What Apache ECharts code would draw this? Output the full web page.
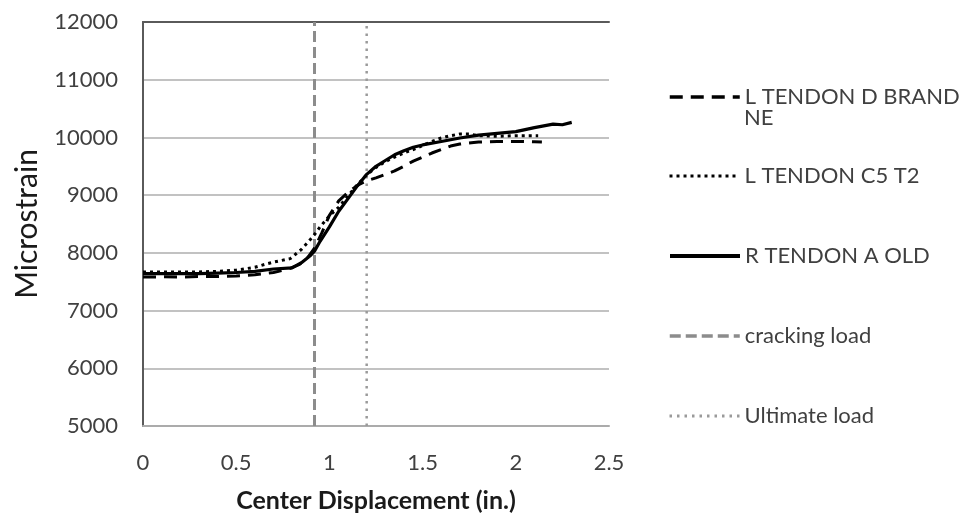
<!DOCTYPE html>
<html>
<head>
<meta charset="utf-8">
<script src="https://cdn.jsdelivr.net/npm/echarts@6/dist/echarts.min.js"></script>
<style>
  html, body { margin: 0; padding: 0; background: #fff; }
  #chart { width: 966px; height: 518px; }
</style>
</head>
<body>
<div id="chart"></div>
<script>
// Center displacement (in.) vs. tendon strain readings
const dBrandneX = [0, 0.1, 0.2, 0.3, 0.4, 0.5, 0.6, 0.7, 0.78, 0.84, 0.88, 0.92, 0.96, 1.0, 1.05, 1.1, 1.15, 1.2, 1.25, 1.3, 1.35, 1.4, 1.45, 1.5, 1.55, 1.6, 1.65, 1.7, 1.8, 1.9, 2.0, 2.1, 2.14];
const dBrandneY = [7580, 7585, 7580, 7590, 7590, 7600, 7620, 7660, 7720, 7800, 7900, 8080, 8350, 8650, 8900, 9050, 9170, 9250, 9300, 9360, 9420, 9500, 9590, 9660, 9730, 9790, 9850, 9885, 9920, 9930, 9930, 9925, 9920];

const c5t2X = [0, 0.1, 0.2, 0.3, 0.4, 0.5, 0.6, 0.665, 0.7, 0.79, 0.85, 0.9, 0.923, 0.95, 1.0, 1.05, 1.1, 1.15, 1.2, 1.25, 1.3, 1.35, 1.4, 1.45, 1.5, 1.55, 1.6, 1.65, 1.7, 1.75, 1.8, 1.9, 2.0, 2.1, 2.12];
const c5t2Y = [7670, 7670, 7670, 7670, 7680, 7700, 7750, 7810, 7840, 7900, 8060, 8240, 8330, 8450, 8640, 8790, 8990, 9180, 9350, 9480, 9580, 9660, 9730, 9790, 9860, 9930, 9990, 10030, 10060, 10060, 10030, 10020, 10030, 10030, 10030];

const aOldX = [0, 0.1, 0.2, 0.3, 0.4, 0.5, 0.6, 0.7, 0.8, 0.85, 0.9, 0.92, 0.95, 1.0, 1.05, 1.1, 1.15, 1.2, 1.25, 1.3, 1.35, 1.4, 1.45, 1.5, 1.6, 1.7, 1.8, 1.9, 2.0, 2.1, 2.2, 2.25, 2.3];
const aOldY = [7640, 7640, 7640, 7640, 7650, 7660, 7680, 7720, 7740, 7830, 7960, 8030, 8200, 8450, 8720, 8940, 9160, 9360, 9500, 9600, 9700, 9770, 9830, 9870, 9930, 9990, 10040, 10070, 10100, 10170, 10230, 10220, 10260];

// Reference loads (displacement at which they occur)
const crackingDisp = 0.92;
const ultimateDisp = 1.2;
const strainRange = [5000, 12000];

const yTicks = { min: 5000, max: 12000, interval: 1000 };
const xTicks = { min: 0, max: 2.5, interval: 0.5 };

const seriesNames = ['L TENDON D BRANDNE', 'L TENDON C5 T2', 'R TENDON A OLD', 'cracking load', 'Ultimate load'];

const pairs = (xs, ys) => xs.map((x, i) => [x, ys[i]]);

const FONT = 'Lato';
const LEGEND_TEXT = { fontFamily: FONT, fontSize: 22, color: '#404040' };
const chart = echarts.init(document.getElementById('chart'), null, { renderer: 'canvas' });

function legendAt(name, top, lineWidth, extra) {
  return Object.assign({
    orient: 'vertical',
    left: 668,
    top: top,
    itemWidth: 70,
    itemHeight: 14,
    itemGap: 0,
    padding: 0,
    selectedMode: false,
    itemStyle: { opacity: 0 },
    lineStyle: { width: lineWidth },
    textStyle: LEGEND_TEXT,
    data: [name]
  }, extra || {});
}

chart.setOption({
  animation: false,
  backgroundColor: '#ffffff',
  grid: { left: 143, top: 22, right: 357, bottom: 90, containLabel: false },
  xAxis: [{
    type: 'value',
    min: xTicks.min, max: xTicks.max, interval: xTicks.interval,
    name: 'Center Displacement (in.)',
    nameLocation: 'middle',
    nameGap: 62,
    nameTextStyle: { fontFamily: FONT, fontSize: 25, fontWeight: 'bold', color: '#1a1a1a' },
    axisLine: { show: true, onZero: false, lineStyle: { color: '#ababab', width: 2 } },
    axisTick: { show: false },
    splitLine: { show: false },
    axisLabel: { fontFamily: FONT, fontSize: 22, color: '#404040', margin: 26 }
  }, {
    type: 'value', position: 'top',
    min: xTicks.min, max: xTicks.max, interval: xTicks.interval,
    axisLine: { show: true, lineStyle: { color: '#5a5a5a', width: 2 } },
    axisTick: { show: false }, axisLabel: { show: false }, splitLine: { show: false }
  }],
  yAxis: [{
    type: 'value',
    min: yTicks.min, max: yTicks.max, interval: yTicks.interval,
    name: 'Microstrain',
    nameLocation: 'middle',
    nameGap: 101,
    nameRotate: 90,
    nameTextStyle: { fontFamily: FONT, fontSize: 30, color: '#1a1a1a' },
    axisLine: { show: true, lineStyle: { color: '#a3a3a3', width: 2 } },
    axisTick: { show: false },
    splitLine: { show: true, lineStyle: { color: '#c2c2c2', width: 2 } },
    axisLabel: { fontFamily: FONT, fontSize: 22, color: '#404040', margin: 25, formatter: v => String(v) }
  }, {
    type: 'value', position: 'right',
    min: yTicks.min, max: yTicks.max, interval: yTicks.interval,
    axisLine: { show: true, lineStyle: { color: '#5a5a5a', width: 2 } },
    axisTick: { show: false }, axisLabel: { show: false }, splitLine: { show: false }
  }],
  legend: [
    legendAt(seriesNames[0], 86, 3.5, { formatter: () => 'L TENDON D BRAND' }),
    legendAt(seriesNames[1], 165, 3),
    legendAt(seriesNames[2], 245, 4),
    legendAt(seriesNames[3], 325, 3.5),
    legendAt(seriesNames[4], 405, 3)
  ],
  // wrapped remainder of the first legend label
  graphic: [{
    type: 'text', left: 744, top: 107,
    style: { text: 'NE', font: '22px ' + FONT, fill: '#404040' }
  }],
  series: [
    {
      name: seriesNames[0], type: 'line', symbol: 'none', z: 3,
      data: pairs(dBrandneX, dBrandneY),
      lineStyle: { color: '#000', width: 3, type: [13, 8] },
      itemStyle: { color: '#000' }
    },
    {
      name: seriesNames[1], type: 'line', symbol: 'none', z: 3,
      data: pairs(c5t2X, c5t2Y),
      lineStyle: { color: '#000', width: 3, type: [3, 4] },
      itemStyle: { color: '#000' }
    },
    {
      name: seriesNames[2], type: 'line', symbol: 'none', z: 4,
      data: pairs(aOldX, aOldY),
      lineStyle: { color: '#000', width: 3.2, type: 'solid' },
      itemStyle: { color: '#000' }
    },
    {
      name: seriesNames[3], type: 'line', symbol: 'none', z: 2,
      data: [[crackingDisp, strainRange[0]], [crackingDisp, strainRange[1]]],
      lineStyle: { color: '#8c8c8c', width: 3, type: [11, 5] },
      itemStyle: { color: '#8c8c8c' }
    },
    {
      name: seriesNames[4], type: 'line', symbol: 'none', z: 2,
      data: [[ultimateDisp, strainRange[0]], [ultimateDisp, strainRange[1]]],
      lineStyle: { color: '#9a9a9a', width: 2.5, type: [2.5, 5] },
      itemStyle: { color: '#9a9a9a' }
    }
  ]
});
</script>
</body>
</html>
